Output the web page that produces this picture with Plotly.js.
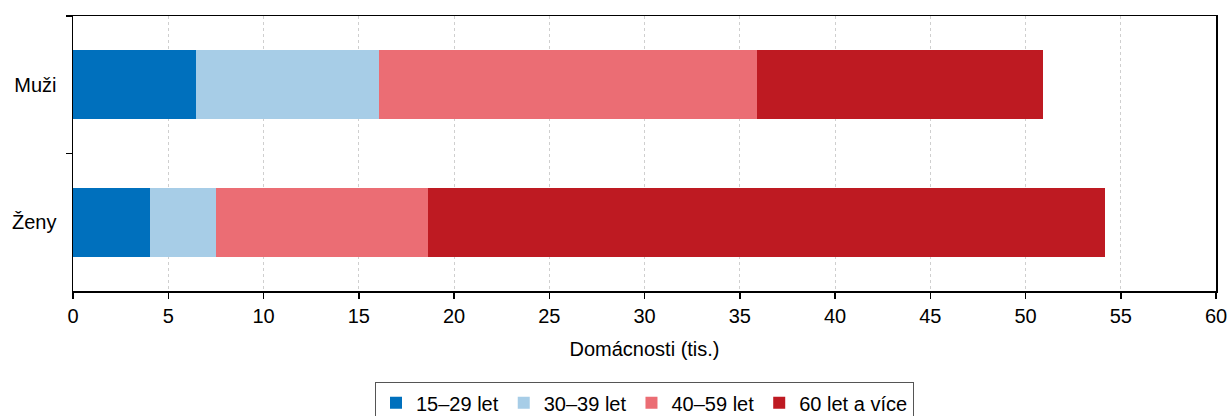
<!DOCTYPE html>
<html>
<head>
<meta charset="utf-8">
<script src="https://cdn.plot.ly/plotly-3.0.1.min.js"></script>
<style>html,body{margin:0;padding:0;background:#fff;}#chart{width:1229px;height:416px;}</style>
</head>
<body>
<div id="chart"></div>
<script>
var categories = ['Muži', 'Ženy'];
var seriesNames = ['15–29 let', '30–39 let', '40–59 let', '60 let a více'];
var age15_29 = [6.45, 4.02];
var age30_39 = [9.6, 3.48];
var age40_59 = [19.85, 11.12];
var age60plus = [15.02, 35.55];
var xTicks = [0, 5, 10, 15, 20, 25, 30, 35, 40, 45, 50, 55, 60];
var colors = ['#0070BD', '#A7CDE7', '#EB6D74', '#BE1A22'];

var seriesValues = [age15_29, age30_39, age40_59, age60plus];
var data = seriesValues.map(function (vals, i) {
  return {
    type: 'bar',
    orientation: 'h',
    name: seriesNames[i],
    y: categories,
    x: vals,
    marker: {color: colors[i], line: {width: 0}},
    hoverinfo: 'x+name'
  };
});

var layout = {
  width: 1229,
  height: 416,
  margin: {l: 73, r: 13, t: 16, b: 125, autoexpand: false},
  barmode: 'stack',
  bargap: 0.5,
  font: {family: 'Liberation Sans, Arial, sans-serif', size: 20, color: '#000'},
  paper_bgcolor: '#fff',
  plot_bgcolor: '#fff',
  showlegend: true,
  xaxis: {
    range: [0, 60],
    tickvals: xTicks,
    ticktext: xTicks.map(String),
    tickfont: {size: 20},
    showgrid: true,
    gridcolor: '#cfcfcf',
    griddash: 'dot',
    gridwidth: 1,
    zeroline: false,
    showline: true,
    linecolor: '#000',
    linewidth: 1.5,
    mirror: true,
    ticks: 'outside',
    ticklen: 6,
    tickcolor: '#000',
    tickwidth: 1.5,
    title: {text: 'Domácnosti (tis.)', font: {size: 20}, standoff: 16},
    fixedrange: true
  },
  yaxis: {
    type: 'category',
    categoryorder: 'array',
    categoryarray: categories,
    autorange: 'reversed',
    tickfont: {size: 20},
    showgrid: false,
    zeroline: false,
    showline: true,
    linecolor: '#000',
    linewidth: 1.5,
    mirror: true,
    ticks: 'outside',
    tickson: 'boundaries',
    ticklen: 6,
    tickcolor: '#000',
    tickwidth: 1.5,
    ticklabelstandoff: 11,
    fixedrange: true
  },
  legend: {
    orientation: 'h',
    x: 0.5,
    xanchor: 'center',
    y: -0.332,
    yanchor: 'top',
    bordercolor: '#555',
    borderwidth: 1,
    font: {size: 20},
    traceorder: 'normal',
    itemwidth: 30
  }
};

Plotly.newPlot('chart', data, layout, {displayModeBar: false, staticPlot: true});
</script>
</body>
</html>
